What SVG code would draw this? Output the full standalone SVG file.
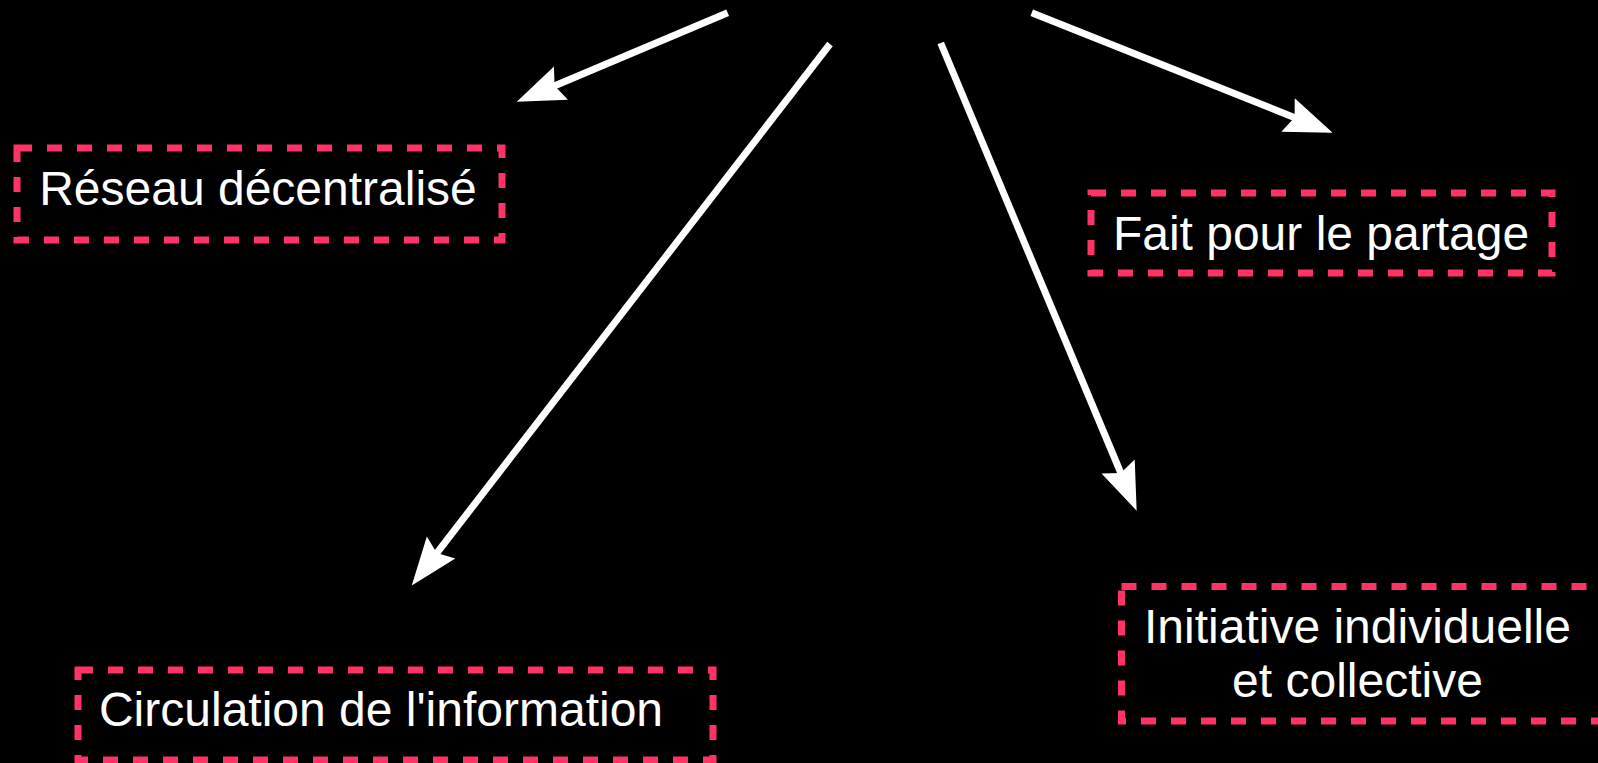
<svg xmlns="http://www.w3.org/2000/svg" width="1598" height="763" viewBox="0 0 1598 763">
<style>
.box{fill:none;stroke:#FF3366;stroke-width:7;stroke-dasharray:15 15}
.lbl{fill:#FFFFFF;font-family:"Liberation Sans",Arial,sans-serif;font-size:48px;text-anchor:middle}
.edge{stroke:#FFFFFF;stroke-width:7;fill:none;marker-end:url(#arr)}
</style>
<defs>
<marker id="arr" markerUnits="userSpaceOnUse" markerWidth="50" markerHeight="40" viewBox="0 0 50 40" refX="8" refY="20" orient="auto">
<path d="M0,2 L48,20 L0,38 L7,20 Z" fill="#FFFFFF"/>
</marker>
</defs>
<rect x="0" y="0" width="1598" height="763" fill="#000000"/>
<g id="connectors">
<line class="edge" x1="727.7" y1="12.7" x2="553.6" y2="86.2"/>
<line class="edge" x1="830" y1="44" x2="436.2" y2="553.8"/>
<line class="edge" x1="940.7" y1="43" x2="1121.2" y2="473.8"/>
<line class="edge" x1="1031.7" y1="12.7" x2="1295.5" y2="117.9"/>
</g>
<g id="node-reseau">
<rect class="box" x="17" y="148" width="485" height="92"/>
<text class="lbl" x="258" y="205">Réseau décentralisé</text>
</g>
<g id="node-partage">
<rect class="box" x="1091" y="193" width="461" height="80"/>
<text class="lbl" x="1321" y="250">Fait pour le partage</text>
</g>
<g id="node-initiative">
<rect class="box" x="1121.5" y="586.5" width="490" height="134.5"/>
<text class="lbl" x="1357.5" y="643">Initiative individuelle</text>
<text class="lbl" x="1357.5" y="697">et collective</text>
</g>
<g id="node-circulation">
<rect class="box" x="78" y="670" width="635" height="90"/>
<text class="lbl" x="381" y="726">Circulation de l'information</text>
</g>
</svg>
